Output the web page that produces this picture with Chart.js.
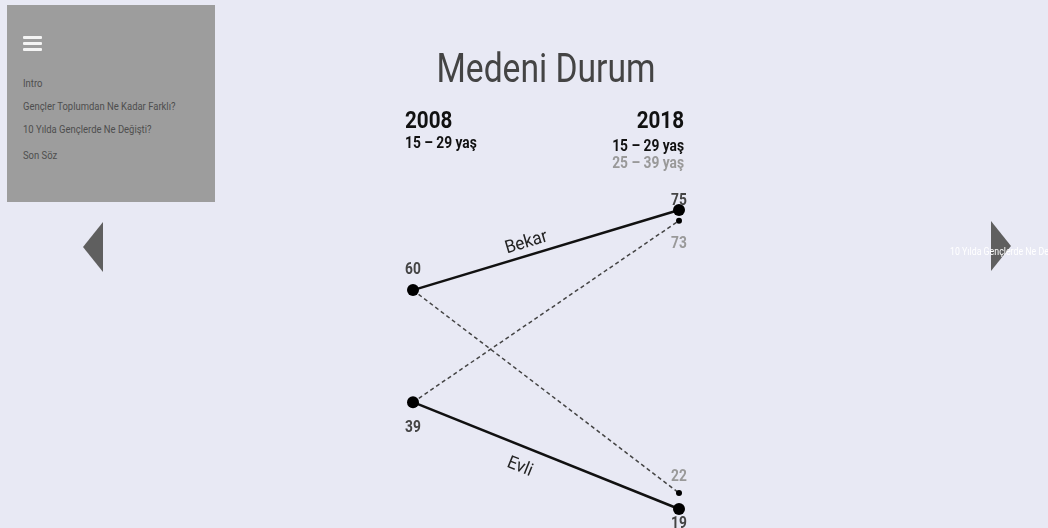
<!DOCTYPE html>
<html>
<head>
<meta charset="utf-8">
<script src="https://cdn.jsdelivr.net/npm/chart.js@4"></script>
<style>
  html, body { margin: 0; padding: 0; }
  body { width: 1048px; height: 528px; overflow: hidden; background: #e8e9f4; position: relative; font-family: Roboto, sans-serif; }
  #grafico { position: absolute; left: 0; top: 0; }
  .menu { position: absolute; left: 7px; top: 5px; width: 208px; height: 197px; background: #9d9d9d; }
  .menu .bar { position: absolute; left: 16px; width: 19px; height: 3px; background: #f4f4f4; border-radius: 1px; }
  .menu p { position: absolute; left: 16px; margin: 0; font-size: 10.5px; color: #4e4e4e; white-space: nowrap; transform: scaleX(0.9); transform-origin: left; }
  .seta { position: absolute; background: #5f5f5f; width: 20px; height: 50px; }
  .esq { left: 83px; top: 222px; clip-path: polygon(0 50%, 100% 0, 100% 100%); }
  .dir { left: 991px; top: 221px; clip-path: polygon(0 0, 100% 50%, 0 100%); }
  .prox { position: absolute; left: 950px; top: 246px; font-size: 10px; color: #fff; white-space: nowrap; transform: scaleX(0.88); transform-origin: left; }
</style>
</head>
<body>
<canvas id="grafico" width="1048" height="528"></canvas>
<div class="menu">
  <div class="bar" style="top:31px"></div>
  <div class="bar" style="top:37px"></div>
  <div class="bar" style="top:43px"></div>
  <p style="top:72px">Intro</p>
  <p style="top:95px">Gençler Toplumdan Ne Kadar Farklı?</p>
  <p style="top:118px">10 Yılda Gençlerde Ne Değişti?</p>
  <p style="top:144px">Son Söz</p>
</div>
<div class="seta esq"></div>
<div class="seta dir"></div>
<div class="prox">10 Yılda Gençlerde Ne Değişti?</div>
<script>
// dados
const anos = [2008, 2018];
const bekar = [60, 75];        // 15-29 yaş
const evli = [39, 19];         // 15-29 yaş
const bekarKohort = [60, 22];  // 2018: 25-39 yaş
const evliKohort = [39, 73];   // 2018: 25-39 yaş
const titulo = 'Medeni Durum';
const faixa1 = '15 – 29 yaş';
const faixa2 = '25 – 39 yaş';

const pontos = (vals) => vals.map((v, i) => ({ x: anos[i], y: v }));

// texto "condensado"
function texto(ctx, s, x, y, font, cor, align, sx) {
  sx = sx || 0.86;
  ctx.save();
  ctx.font = font;
  ctx.fillStyle = cor;
  ctx.textBaseline = 'alphabetic';
  const w = ctx.measureText(s).width * sx;
  let x0 = x;
  if (align === 'center') x0 = x - w / 2;
  if (align === 'right') x0 = x - w;
  ctx.translate(x0, y);
  ctx.scale(sx, 1);
  ctx.fillText(s, 0, 0);
  ctx.restore();
}

function rotulo(ctx, s, x, y, cor) {
  texto(ctx, s, x, y, 'bold 16px Roboto', cor, 'center');
}

function nomeLinha(chart, s, vals, t, off) {
  const ctx = chart.ctx;
  const xs = chart.scales.x, ys = chart.scales.y;
  const x1 = xs.getPixelForValue(anos[0]), y1 = ys.getPixelForValue(vals[0]);
  const x2 = xs.getPixelForValue(anos[1]), y2 = ys.getPixelForValue(vals[1]);
  const ang = Math.atan2(y2 - y1, x2 - x1);
  const px = x1 + (x2 - x1) * t - Math.sin(ang) * off;
  const py = y1 + (y2 - y1) * t + Math.cos(ang) * off;
  ctx.save();
  ctx.translate(px, py);
  ctx.rotate(ang);
  texto(ctx, s, 0, 6, '18px Roboto', '#222', 'center', 0.95);
  ctx.restore();
}

const textos = {
  id: 'textos',
  afterDraw(chart) {
    const ctx = chart.ctx;
    const xs = chart.scales.x, ys = chart.scales.y;
    const xa = xs.getPixelForValue(anos[0]);
    const xb = xs.getPixelForValue(anos[1]);

    texto(ctx, titulo, 546, 82, '41px Roboto', '#444', 'center', 0.82);

    texto(ctx, String(anos[0]), xa - 8, 128, 'bold 24px Roboto', '#111', 'left');
    texto(ctx, faixa1, xa - 8, 148, 'bold 16px Roboto', '#111', 'left');
    texto(ctx, String(anos[1]), xb + 5, 128, 'bold 24px Roboto', '#111', 'right');
    texto(ctx, faixa1, xb + 5, 151, 'bold 16px Roboto', '#111', 'right');
    texto(ctx, faixa2, xb + 5, 168, 'bold 16px Roboto', '#999', 'right');

    // valores
    rotulo(ctx, String(bekar[0]), xa, ys.getPixelForValue(bekar[0]) - 16, '#444');
    rotulo(ctx, String(evli[0]), xa, ys.getPixelForValue(evli[0]) + 30, '#444');
    rotulo(ctx, String(bekar[1]), xb, ys.getPixelForValue(bekar[1]) - 5, '#444');
    rotulo(ctx, String(evli[1]), xb, ys.getPixelForValue(evli[1]) + 19, '#444');
    rotulo(ctx, String(evliKohort[1]), xb, ys.getPixelForValue(evliKohort[1]) + 27, '#999');
    rotulo(ctx, String(bekarKohort[1]), xb, ys.getPixelForValue(bekarKohort[1]) - 12, '#999');

    nomeLinha(chart, 'Bekar', bekar, 0.44, -14);
    nomeLinha(chart, 'Evli', evli, 0.43, 19);
  }
};

new Chart(document.getElementById('grafico'), {
  type: 'line',
  data: {
    datasets: [
      {
        label: 'Bekar',
        data: pontos(bekar),
        borderColor: '#111',
        borderWidth: 2.5,
        pointRadius: 6,
        pointBackgroundColor: '#000',
        pointBorderWidth: 0,
        clip: false
      },
      {
        label: 'Evli',
        data: pontos(evli),
        borderColor: '#111',
        borderWidth: 2.5,
        pointRadius: 6,
        pointBackgroundColor: '#000',
        pointBorderWidth: 0,
        clip: false
      },
      {
        label: 'Bekar (25-39)',
        data: pontos(bekarKohort),
        borderColor: '#444',
        borderWidth: 1.5,
        borderDash: [4, 3],
        pointRadius: [0, 3],
        pointBackgroundColor: '#000',
        pointBorderWidth: 0,
        clip: false
      },
      {
        label: 'Evli (25-39)',
        data: pontos(evliKohort),
        borderColor: '#444',
        borderWidth: 1.5,
        borderDash: [4, 3],
        pointRadius: [0, 3],
        pointBackgroundColor: '#000',
        pointBorderWidth: 0,
        clip: false
      }
    ]
  },
  options: {
    responsive: false,
    animation: false,
    layout: { padding: { left: 413, right: 369, top: 210, bottom: 19 } },
    plugins: { legend: { display: false }, tooltip: { enabled: false } },
    scales: {
      x: { type: 'linear', min: 2008, max: 2018, display: false },
      y: { min: 19, max: 75, display: false }
    }
  },
  plugins: [textos]
});
</script>
</body>
</html>
